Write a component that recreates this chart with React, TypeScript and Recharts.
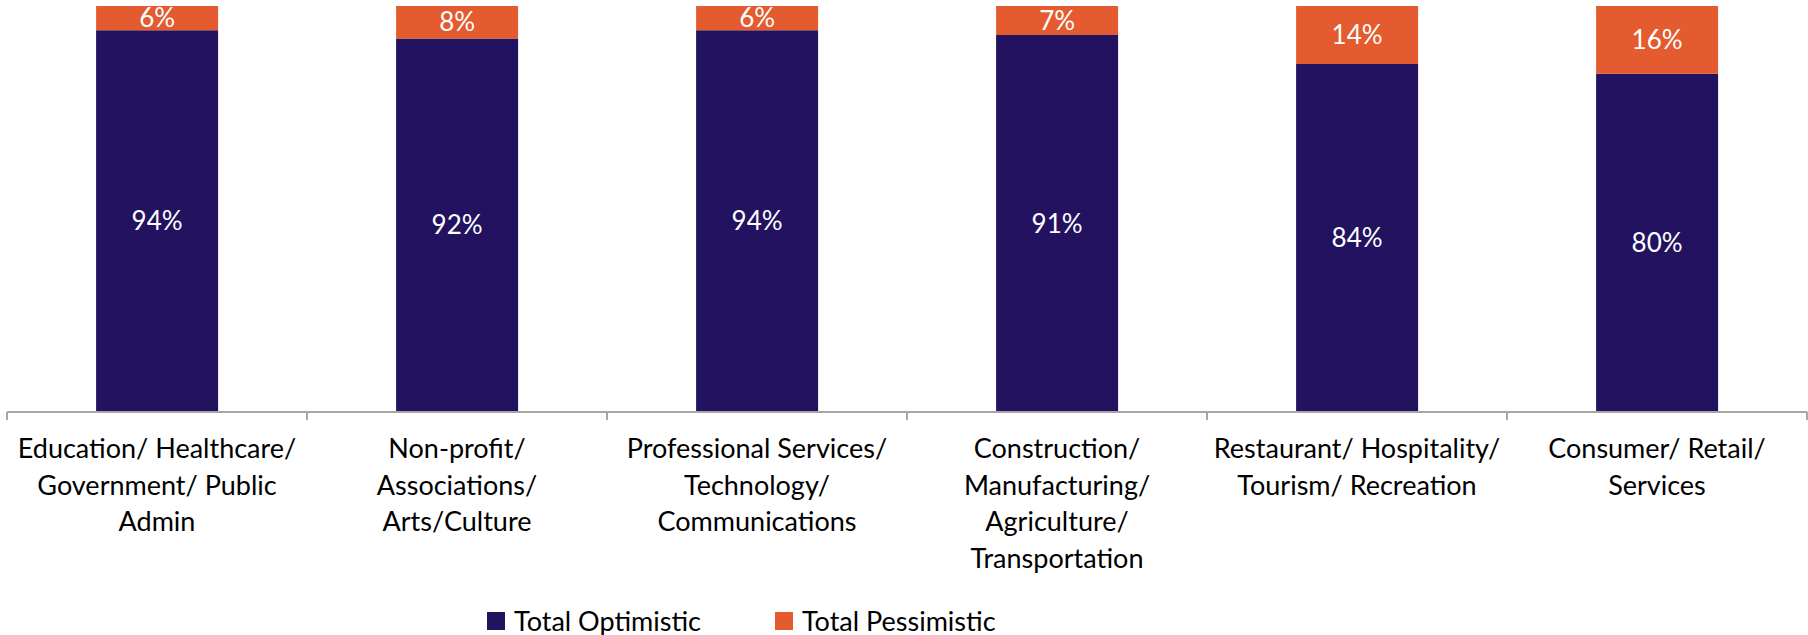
import { BarChart, Bar, XAxis, YAxis, Legend, LabelList } from 'recharts'

const categories = [
  'Education/ Healthcare/\nGovernment/ Public\nAdmin',
  'Non-profit/\nAssociations/\nArts/Culture',
  'Professional Services/\nTechnology/\nCommunications',
  'Construction/\nManufacturing/\nAgriculture/\nTransportation',
  'Restaurant/ Hospitality/\nTourism/ Recreation',
  'Consumer/ Retail/\nServices',
]
const optimistic = [94, 92, 94, 91, 84, 80]
const pessimistic = [6, 8, 6, 7, 14, 16]

const data = categories.map((name, i) => ({
  name,
  optimistic: optimistic[i],
  pessimistic: pessimistic[i],
}))

const NAVY = '#221260'
const ORANGE = '#E35B2E'
const FONT = 'Lato, "Open Sans", sans-serif'

function CategoryTick(props: any) {
  const { x, y, payload, index, visibleTicksCount } = props
  const half = payload.offset ?? 150
  const lines = String(payload.value).split('\n')
  return (
    <g>
      <line x1={x - half} x2={x - half} y1={y} y2={y + 8} stroke="#a6a6a6" strokeWidth={2} />
      {index === visibleTicksCount - 1 && (
        <line x1={x + half} x2={x + half} y1={y} y2={y + 8} stroke="#a6a6a6" strokeWidth={2} />
      )}
      <text x={x} y={y + 46} textAnchor="middle" fill="#000" fontSize={27} fontFamily={FONT}>
        {lines.map((l, i) => (
          <tspan key={i} x={x} dy={i === 0 ? 0 : 36.5}>
            {l}
          </tspan>
        ))}
      </text>
    </g>
  )
}

function LegendContent() {
  const items = [
    { label: 'Total Optimistic', color: NAVY },
    { label: 'Total Pessimistic', color: ORANGE },
  ]
  return (
    <div style={{ display: 'flex', alignItems: 'center', fontFamily: FONT, fontSize: 27, color: '#000' }}>
      {items.map((it, i) => (
        <div key={it.label} style={{ display: 'flex', alignItems: 'center', marginRight: i === 0 ? 74 : 0 }}>
          <span style={{ width: 18, height: 18, background: it.color, marginRight: 9, display: 'inline-block' }} />
          <span>{it.label}</span>
        </div>
      ))}
    </div>
  )
}

export default function App() {
  return (
    <div style={{ position: 'absolute', left: 0, top: 0, background: '#fff' }}>
      <BarChart
        width={1808}
        height={635}
        data={data}
        stackOffset="expand"
        barCategoryGap="29.7%"
        margin={{ top: 6, right: 1, left: 7, bottom: 23 }}
      >
        <XAxis
          dataKey="name"
          interval={0}
          height={200}
          tickSize={0}
          tickMargin={0}
          tickLine={false}
          axisLine={{ stroke: '#a6a6a6', strokeWidth: 2 }}
          tick={<CategoryTick />}
        />
        <YAxis hide domain={[0, 1]} />
        <Legend
          layout="horizontal"
          verticalAlign="middle"
          align="center"
          content={<LegendContent />}
          wrapperStyle={{ position: 'absolute', top: 604, left: 487, width: 700 }}
        />
        <Bar dataKey="optimistic" stackId="a" fill={NAVY} isAnimationActive={false}>
          <LabelList
            dataKey="optimistic"
            position="center"
            formatter={(v: any) => `${v}%`}
            fill="#fff"
            fontSize={26}
            fontFamily={FONT}
          />
        </Bar>
        <Bar dataKey="pessimistic" stackId="a" fill={ORANGE} isAnimationActive={false}>
          <LabelList
            dataKey="pessimistic"
            position="center"
            formatter={(v: any) => `${v}%`}
            fill="#fff"
            fontSize={26}
            fontFamily={FONT}
          />
        </Bar>
      </BarChart>
    </div>
  )
}
